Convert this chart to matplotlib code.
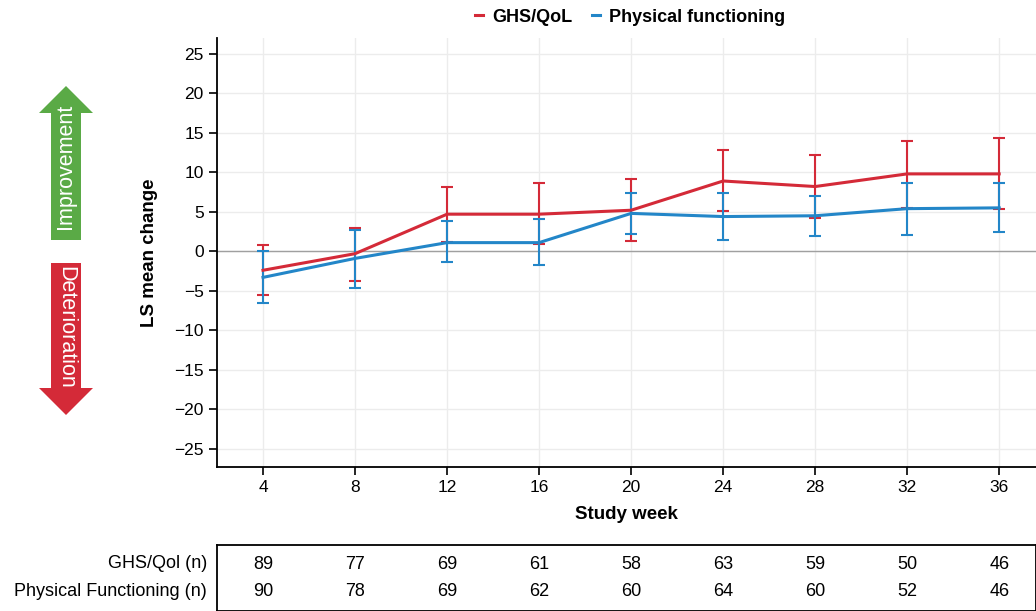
import numpy as np
import matplotlib
matplotlib.use("Agg")
from matplotlib import pyplot as plt
from matplotlib.patches import Polygon
from matplotlib.lines import Line2D

plt.rcParams['font.family'] = ['Liberation Sans', 'DejaVu Sans']

weeks = [4, 8, 12, 16, 20, 24, 28, 32, 36]

ghs_mean = [-2.4, -0.3, 4.7, 4.7, 5.2, 8.9, 8.2, 9.8, 9.8]
ghs_low = [-5.5, -3.8, 1.2, 0.9, 1.3, 5.1, 4.2, 5.5, 5.4]
ghs_high = [0.8, 3.0, 8.2, 8.6, 9.1, 12.8, 12.2, 14.0, 14.3]

pf_mean = [-3.3, -0.9, 1.1, 1.1, 4.8, 4.4, 4.5, 5.4, 5.5]
pf_low = [-6.6, -4.6, -1.4, -1.7, 2.2, 1.4, 1.9, 2.1, 2.4]
pf_high = [0.0, 2.7, 3.8, 4.1, 7.4, 7.4, 7.0, 8.7, 8.7]

ghs_n = [89, 77, 69, 61, 58, 63, 59, 50, 46]
pf_n = [90, 78, 69, 62, 60, 64, 60, 52, 46]

red = '#d42a38'
blue = '#2386c8'

W, H = 1036, 611
fig = plt.figure(figsize=(W / 100, H / 100), dpi=100)

xl = (2, 37.6)
ax = fig.add_axes([217 / W, 1 - 467 / H, 1 - 217 / W, (467 - 38) / H])
ax.set_xlim(*xl)
ax.set_ylim(-27.3, 27)

for xv in weeks:
    ax.axvline(xv, color='#ececec', lw=1, zorder=0)
for yv in range(-25, 26, 5):
    ax.axhline(yv, color='#ececec', lw=1, zorder=0)
ax.axhline(0, color='#a0a0a0', lw=1, zorder=1)

def draw(mean, low, high, c, lab):
    m = np.array(mean)
    yerr = [m - np.array(low), np.array(high) - m]
    ax.errorbar(weeks, m, yerr=yerr, color=c, lw=2.2, elinewidth=1.5,
                capsize=4, capthick=1.5, label=lab, zorder=3)

draw(ghs_mean, ghs_low, ghs_high, red, 'GHS/QoL')
draw(pf_mean, pf_low, pf_high, blue, 'Physical functioning')

ax.set_xticks(weeks)
ax.set_yticks(range(-25, 26, 5))
ax.set_yticklabels([str(v).replace('-', '\u2212') for v in range(-25, 26, 5)])
ax.tick_params(labelsize=12.5, length=6, width=1.2, direction='out')
for s in ['top', 'right']:
    ax.spines[s].set_visible(False)
for s in ['left', 'bottom']:
    ax.spines[s].set_linewidth(1.3)
ax.set_xlabel('Study week', fontsize=13.5, fontweight='bold', labelpad=8)
ax.set_ylabel('LS mean change', fontsize=13.5, fontweight='bold', labelpad=12)

h, l = ax.get_legend_handles_labels()
hs = [Line2D([], [], color=red, lw=2.2), Line2D([], [], color=blue, lw=2.2)]
fig.legend(hs, l, loc='center', bbox_to_anchor=(630 / W, 1 - 17 / H), ncol=2,
           frameon=False, handlelength=0.45, handletextpad=0.5, columnspacing=1.1,
           prop={'weight': 'bold', 'size': 13})

# number at risk table
tb = fig.add_axes([217 / W, 0, 1 - 217 / W, (H - 545) / H])
tb.set_xlim(*xl)
tb.set_ylim(0, 1)
tb.set_xticks([])
tb.set_yticks([])
for s in tb.spines.values():
    s.set_linewidth(1.3)
for xv, a, b in zip(weeks, ghs_n, pf_n):
    tb.text(xv, 0.71, str(a), ha='center', va='center', fontsize=13)
    tb.text(xv, 0.30, str(b), ha='center', va='center', fontsize=13)
fig.text(207 / W, 1 - 564 / H, 'GHS/Qol (n)', ha='right', va='center', fontsize=13)
fig.text(207 / W, 1 - 591 / H, 'Physical Functioning (n)', ha='right', va='center', fontsize=13)

# direction arrows
ov = fig.add_axes([0, 0, 1, 1], zorder=-1)
ov.set_xlim(0, W)
ov.set_ylim(H, 0)
ov.axis('off')
green = '#5aaa46'
up = [(51, 240), (81, 240), (81, 113), (93, 113), (66, 86), (39, 113), (51, 113)]
dn = [(51, 263), (81, 263), (81, 388), (93, 388), (66, 415), (39, 388), (51, 388)]
ov.add_patch(Polygon(up, closed=True, color=green, lw=0))
ov.add_patch(Polygon(dn, closed=True, color=red, lw=0))
ov.text(66, 166, 'Improvement', rotation=90, ha='center', va='center',
        color='white', fontsize=15.5)
ov.text(66, 327, 'Deterioration', rotation=-90, ha='center', va='center',
        color='white', fontsize=15.5)

fig.savefig('out.png', dpi=100)
